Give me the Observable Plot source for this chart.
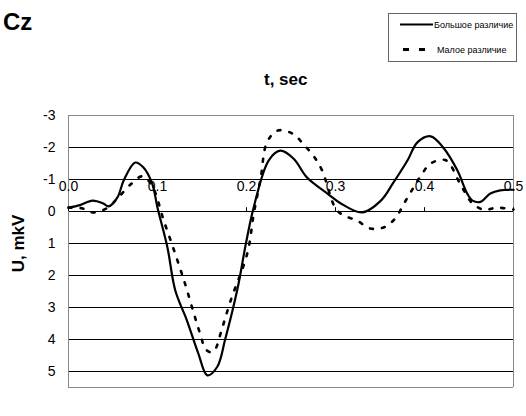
<!DOCTYPE html>
<html><head><meta charset="utf-8">
<script src="https://cdn.jsdelivr.net/npm/d3@7"></script>
<script src="https://cdn.jsdelivr.net/npm/@observablehq/plot@0.6"></script>
<style>
body{margin:0;background:#fff;font-family:"Liberation Sans",Arial,sans-serif;}
#wrap{position:relative;width:526px;height:416px;overflow:hidden;}
#wrap svg.plot{position:absolute;left:0;top:0;}
.ov{position:absolute;white-space:nowrap;color:#000;}
</style></head><body>
<div id="wrap">
  <div class="ov" style="left:3px;top:8px;font-size:24px;font-weight:bold;">Cz</div>
  <div class="ov" style="left:264px;top:70px;font-size:17px;font-weight:bold;">t, sec</div>
  <div class="ov" style="left:388px;top:13px;width:129px;height:49px;border:1px solid #666;box-sizing:border-box;background:#fff;">
    <svg width="129" height="49" style="position:absolute;left:0;top:0">
      <line x1="11" x2="44" y1="10.5" y2="10.5" stroke="#000" stroke-width="2"/>
      <line x1="14" x2="38" y1="35.5" y2="35.5" stroke="#000" stroke-width="3" stroke-dasharray="6,10"/>
      <text x="45" y="14" font-size="9" font-family="Liberation Sans, Arial, sans-serif">Большое различие</text>
      <text x="48" y="39" font-size="9" font-family="Liberation Sans, Arial, sans-serif">Малое различие</text>
    </svg>
  </div>
</div>
<script>
const seriesNames = ["Большое различие", "Малое различие"];
const tBig = [0.000,0.013,0.027,0.039,0.045,0.055,0.062,0.075,0.084,0.094,0.100,0.111,0.120,0.133,0.146,0.156,0.167,0.176,0.190,0.199,0.208,0.225,0.238,0.253,0.268,0.291,0.306,0.330,0.351,0.365,0.381,0.392,0.407,0.421,0.437,0.448,0.454,0.463,0.474,0.485,0.500];
const uBig = [-0.12,-0.20,-0.34,-0.25,-0.16,-0.44,-0.97,-1.53,-1.38,-0.87,-0.12,1.10,2.47,3.40,4.45,5.12,4.86,4.00,2.40,1.05,-0.12,-1.60,-1.90,-1.65,-1.06,-0.56,-0.25,0.03,-0.34,-0.90,-1.60,-2.16,-2.35,-2.00,-1.28,-0.56,-0.34,-0.30,-0.56,-0.66,-0.68];
const tSmall = [0.000,0.015,0.028,0.044,0.056,0.070,0.083,0.094,0.107,0.120,0.131,0.141,0.148,0.154,0.160,0.165,0.171,0.182,0.201,0.208,0.216,0.223,0.235,0.252,0.264,0.275,0.285,0.300,0.309,0.324,0.339,0.354,0.367,0.377,0.387,0.396,0.407,0.424,0.440,0.453,0.466,0.482,0.500];
const uSmall = [-0.12,-0.10,0.03,-0.12,-0.44,-0.85,-1.10,-0.80,0.28,1.33,2.26,3.20,3.83,4.30,4.40,4.30,3.80,2.80,1.30,0.10,-1.06,-2.16,-2.53,-2.43,-2.10,-1.75,-1.28,-0.10,0.12,0.28,0.53,0.50,0.22,-0.25,-0.72,-1.12,-1.50,-1.60,-0.87,-0.28,-0.06,-0.12,-0.06];
const xTicks = [0, 0.1, 0.2, 0.3, 0.4, 0.5];
const yTicks = [-3, -2, -1, 0, 1, 2, 3, 4, 5];
const gridValues = [-2, -1, 0, 1, 2, 3, 4, 5];

const big = tBig.map((t, i) => ({t, u: uBig[i]}));
const small = tSmall.map((t, i) => ({t, u: uSmall[i]}));

const chart = Plot.plot({
  width: 526, height: 416,
  marginLeft: 68, marginRight: 13, marginTop: 115, marginBottom: 29,
  x: {domain: [0, 0.5], axis: null},
  y: {domain: [-3, 5.5], reverse: true, axis: null},
  style: {fontFamily: "Liberation Sans, Arial, sans-serif", background: "transparent"},
  marks: [
    Plot.ruleY(gridValues, {stroke: "#000", strokeWidth: 1}),
    Plot.ruleX([0, 0.5], {y1: -3, y2: 5.5, stroke: "#888", strokeWidth: 1}),
    Plot.ruleY([-3, 5.5], {stroke: "#888", strokeWidth: 1}),
    Plot.text(yTicks, {x: 0, y: d => d, text: d => String(d), textAnchor: "end", dx: -13, fontSize: 14, fill: "#000"}),
    Plot.ruleX(xTicks, {x: d => d, y1: 0, y2: -0.12, stroke: "#000"}),
    Plot.text(xTicks, {x: d => d, y: 0, dy: -25, text: d => d.toFixed(1), fontSize: 14, fill: "#000"}),
    Plot.line(small, {x: "t", y: "u", curve: "catmull-rom", stroke: "#000", strokeWidth: 2.6, strokeDasharray: "3,9"}),
    Plot.line(big, {x: "t", y: "u", curve: "catmull-rom", stroke: "#000", strokeWidth: 2.2}),
    Plot.text(["U, mkV"], {frameAnchor: "left", textAnchor: "middle", dx: -50, dy: -8, rotate: -90, fontSize: 17, fontWeight: "bold", fill: "#000"})
  ]
});
document.getElementById("wrap").prepend(chart);
</script>
</body></html>
